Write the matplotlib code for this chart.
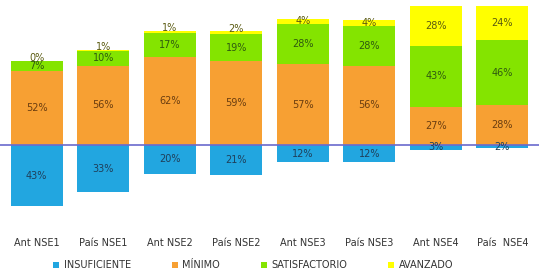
"""Diverging stacked bars: performance levels by NSE group."""

import matplotlib

matplotlib.use("Agg")
import matplotlib.pyplot as plt
import numpy as np
from matplotlib.patches import Patch

categories = ["Ant NSE1", "País NSE1", "Ant NSE2", "País NSE2",
              "Ant NSE3", "País NSE3", "Ant NSE4", "País  NSE4"]
insuficiente = [43, 33, 20, 21, 12, 12, 3, 2]
minimo = [52, 56, 62, 59, 57, 56, 27, 28]
satisfactorio = [7, 10, 17, 19, 28, 28, 43, 46]
avanzado = [0, 1, 1, 2, 4, 4, 28, 24]

series_names = ["INSUFICIENTE", "MÍNIMO", "SATISFACTORIO", "AVANZADO"]
colors = ["#22a6e0", "#f7a033", "#84e400", "#ffff00"]
text_colors = ["#1f3f5a", "#6a3d10", "#2f5a10", "#5a5a10"]

plt.rcParams["font.family"] = ["DejaVu Sans"]

fig = plt.figure(figsize=(5.39, 2.75), dpi=100)
ax = fig.add_axes([0.0, 1 - 225 / 275, 1.0, 225 / 275])

x = np.arange(len(categories))
width = 0.78

# insuficiente goes below zero
neg = -np.array(insuficiente)
ax.bar(x, neg, width, color=colors[0])
for xi, v in zip(x, insuficiente):
    ax.text(xi, -v / 2 if v > 5 else -1.5, f"{v}%", ha="center", va="center",
            fontsize=7, color=text_colors[0])

bottom = np.zeros(len(categories))
for vals, col, tc in zip([minimo, satisfactorio, avanzado], colors[1:], text_colors[1:]):
    vals = np.array(vals)
    ax.bar(x, vals, width, bottom=bottom, color=col)
    for xi, b, v in zip(x, bottom, vals):
        ax.text(xi, b + v / 2 + (2.5 if v < 3 else 0), f"{v}%", ha="center", va="center",
                fontsize=7, color=tc)
    bottom += vals

ax.axhline(0, color="#6a6acd", lw=1.2)

ax.set_xlim(-0.55, len(categories) - 0.45)
ax.set_ylim(-56, 102)
ax.set_yticks([])
ax.set_xticks(x)
ax.set_xticklabels(categories, fontsize=7, color="#333333")
ax.tick_params(axis="x", length=0, pad=9)
for s in ax.spines.values():
    s.set_visible(False)

handles = [Patch(facecolor=c, edgecolor="none") for c in colors]
fig.legend(handles, series_names, loc="lower center", bbox_to_anchor=(0.47, -0.015),
           ncol=4, frameon=False, fontsize=7, handlelength=0.6, handleheight=0.6,
           handletextpad=0.5, columnspacing=4.2, labelcolor="#333333")

fig.savefig("out.png", dpi=100)
